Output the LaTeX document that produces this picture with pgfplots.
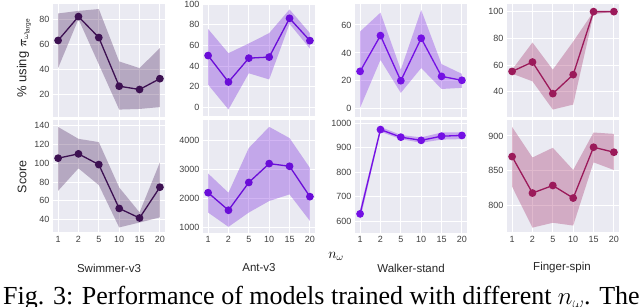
\documentclass[border=0pt]{standalone}
\usepackage{pgfplots}
\pgfplotsset{compat=1.18}
\usepgfplotslibrary{fillbetween}
\usepackage{amsmath}
\usepackage{fontspec}
\setmainfont{Liberation Sans}
\newfontfamily\capserif{Liberation Serif}
\definecolor{bgc}{HTML}{EAEAF2}
\definecolor{cswim}{HTML}{3D1152}
\definecolor{cant}{HTML}{6A0DD8}
\definecolor{cwalk}{HTML}{7410E4}
\definecolor{cfing}{HTML}{9B1A5A}
\pgfplotsset{
  panel/.style={
    scale only axis, width=112pt, height=112.5pt, anchor=north west,
    xmin=-0.25, xmax=5.25, xtick={0,...,5},
    axis background/.style={fill=bgc},
    axis line style={draw=none},
    major tick length=0pt,
    grid=major, major grid style={white, line width=1pt},
    tick label style={font=\fontsize{9}{10}\selectfont, text=black!75},
    /pgf/number format/assume math mode=true,
    /pgf/number format/1000 sep={},
  },
  top/.style={xticklabels={}},
  bot/.style={xticklabels={1,2,5,10,15,20}},
}
\newcommand{\panel}[2]{%
  \addplot[name path=hi, draw=none, forget plot] table[x=x, y=hi] {#1};
  \addplot[name path=lo, draw=none, forget plot] table[x=x, y=lo] {#1};
  \addplot[fill=#2, fill opacity=0.3, draw=none] fill between[of=hi and lo];
  \addplot[color=#2, line width=1.3pt, mark=*, mark size=3.2pt] table[x=x, y=m] {#1};
}
\pgfplotstableread{
x m lo hi
0 63 41 84.5
1 82 80 86.5
2 65.3 44 88
3 26.6 8 46.3
4 24 8.5 41
5 32.6 10 57
}\swA
\pgfplotstableread{
x m lo hi
0 50.2 22 76
1 24.5 -2.2 52.5
2 47.7 33 62
3 48.7 27 72
4 86.4 81 95
5 64.7 57 72
}\antA
\pgfplotstableread{
x m lo hi
0 26.8 0.7 55.3
1 52.4 35 68.8
2 20.1 11.4 28
3 50.5 29.2 70.7
4 23.2 14.2 32
5 20.4 15 25
}\walkA
\pgfplotstableread{
x m lo hi
0 55.3 53.6 56.6
1 62.3 47.9 76.9
2 38.7 26.8 56.6
3 52.9 30.5 77.6
4 100 98 100
5 100 100 100
}\fingA
\pgfplotstableread{
x m lo hi
0 105.4 70.7 138.6
1 110 94.6 126
2 98.6 76.8 122.5
3 52 31.8 74.3
4 41.8 37 47.8
5 74.6 42.5 101
}\swB
\pgfplotstableread{
x m lo hi
0 2206 1519 2870
1 1598 1024 2206
2 2560 1519 3753
3 3213 1918 4485
4 3120 2148 4096
5 2069 1230 3065
}\antB
\pgfplotstableread{
x m lo hi
0 630 605 650
1 974 965 985
2 943 935 952
3 930 920 942
4 947 933 962
5 950 935 962
}\walkB
\pgfplotstableread{
x m lo hi
0 870.3 827 913
1 817.8 768 869
2 828.7 775 883
3 810.6 771 851
4 883.8 862 905
5 876.6 851 903
}\fingB
\begin{document}
\begin{tikzpicture}
% top row
\begin{axis}[panel, top, at={(53pt,-4pt)}, ymin=2.5, ymax=92, ytick={20,40,60,80}]
\panel{\swA}{cswim}
\end{axis}
\begin{axis}[panel, top, at={(203pt,-4pt)}, ymin=-9, ymax=100.3, ytick={0,20,...,100}]
\panel{\antA}{cant}
\end{axis}
\begin{axis}[panel, top, at={(355pt,-4pt)}, ymin=-5.5, ymax=75, ytick={0,20,40,60}]
\panel{\walkA}{cwalk}
\end{axis}
\begin{axis}[panel, top, at={(507pt,-4pt)}, ymin=21.6, ymax=105.7, ytick={40,60,80,100}]
\panel{\fingA}{cfing}
\end{axis}
% bottom row
\begin{axis}[panel, bot, at={(53pt,-120pt)}, ymin=26.4, ymax=146, ytick={40,60,...,140}]
\panel{\swB}{cswim}
\end{axis}
\begin{axis}[panel, bot, at={(203pt,-120pt)}, ymin=828, ymax=4722, ytick={1000,2000,3000,4000}]
\panel{\antB}{cant}
\end{axis}
\begin{axis}[panel, bot, at={(355pt,-120pt)}, ymin=554, ymax=1013, ytick={600,700,...,1000}]
\panel{\walkB}{cwalk}
\end{axis}
\begin{axis}[panel, bot, at={(507pt,-120pt)}, ymin=761, ymax=923, ytick={800,850,900}]
\panel{\fingB}{cfing}
\end{axis}
% labels
\node[rotate=90, font=\fontsize{13}{15}\selectfont, text=black!85] at (24pt,-58pt) {\% using $\boldsymbol{\pi}_{\omega_{\mathrm{large}}}$};
\node[rotate=90, font=\fontsize{12.5}{14}\selectfont, text=black!85] at (22pt,-177pt) {Score};
\node[font=\fontsize{11.5}{13}\selectfont, text=black!85] at (109pt,-268pt) {Swimmer-v3};
\node[font=\fontsize{11.5}{13}\selectfont, text=black!85] at (259pt,-268pt) {Ant-v3};
\node[font=\fontsize{11.5}{13}\selectfont, text=black!85] at (411pt,-268pt) {Walker-stand};
\node[font=\fontsize{11.5}{13}\selectfont, text=black!85] at (562pt,-268pt) {Finger-spin};
\node[font=\fontsize{14}{15}\selectfont] at (336pt,-256pt) {$n_\omega$};
\node[anchor=base west, font=\capserif\fontsize{26}{27}\selectfont, inner sep=0pt] at (3pt,-305pt) {Fig. 3: Performance of models trained with different $n_\omega$. The};
\pgfresetboundingbox
\path[use as bounding box] (0pt,0pt) rectangle (640pt,-307pt);
\end{tikzpicture}
\end{document}
